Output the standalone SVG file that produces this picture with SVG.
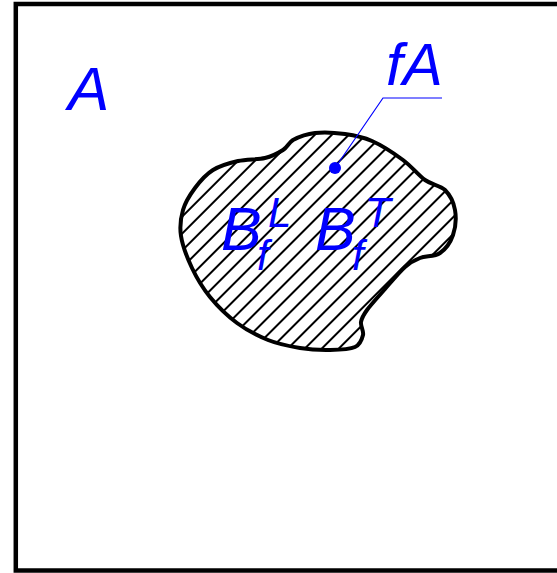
<svg xmlns="http://www.w3.org/2000/svg" width="557" height="573" viewBox="0 0 557 573">
<style>
.lbl{font-family:"Liberation Sans",Arial,sans-serif;font-style:italic;fill:#0000ff}
.sm{font-size:42px}
</style>
<defs>
<pattern id="hatch" patternUnits="userSpaceOnUse" width="24" height="12" patternTransform="rotate(-45)">
<line x1="-5" y1="6" x2="29" y2="6" stroke="#000" stroke-width="2"/>
</pattern>
</defs>
<rect width="557" height="573" fill="#fff"/>
<g id="frame">
<rect x="15.8" y="4" width="600" height="566.5" fill="none" stroke="#000" stroke-width="4.5"/>
<text class="lbl" x="68" y="110" font-size="62">A</text>
</g>
<g id="blob">
<path fill="url(#hatch)" stroke="#000" stroke-width="4" d="M293,140 C298.3,137.2 306.3,134 315,133 C323.7,132 335.5,132.7 345,134 C354.5,135.3 362.3,136.7 372,141 C381.7,145.3 394.2,153.5 403,160 C411.8,166.5 418,175 425,180 C432,185 440,185 445,190 C450,195 453.7,202.5 455,210 C456.3,217.5 455.5,227.8 453,235 C450.5,242.2 445.5,249.2 440,253 C434.5,256.8 425.8,255.7 420,258 C414.2,260.3 410.8,261.8 405,267 C399.2,272.2 391.3,281.8 385,289 C378.7,296.2 371,304.5 367,310 C363,315.5 361.7,317.8 361,322 C360.3,326.2 364,330.8 363,335 C362,339.2 360.5,344.5 355,347 C349.5,349.5 339.2,349.8 330,350 C320.8,350.2 310.3,349.7 300,348 C289.7,346.3 278.5,344.2 268,340 C257.5,335.8 246.7,330.2 237,323 C227.3,315.8 217.5,306.2 210,297 C202.5,287.8 196.8,278.2 192,268 C187.2,257.8 182.5,245.7 181,236 C179.5,226.3 180.7,218 183,210 C185.3,202 190,194.7 195,188 C200,181.3 205.8,174.5 213,170 C220.2,165.5 229.3,163 238,161 C246.7,159 257.5,159.8 265,158 C272.5,156.2 278.3,153 283,150 C287.7,147 288.3,143 293,140 Z"/>
<text class="lbl" x="221" y="250" font-size="61">B<tspan class="sm" x="257" y="270">f</tspan><tspan class="sm" x="268" y="227">L</tspan></text>
<text class="lbl" x="315" y="250" font-size="61">B<tspan class="sm" x="352" y="270">f</tspan><tspan class="sm" x="365" y="227">T</tspan></text>
</g>
<g id="connectors">
<polyline points="442,98 383,98 335,168" fill="none" stroke="#0000ff" stroke-width="1.2"/>
<circle cx="335" cy="168" r="6" fill="#0000ff"/>
</g>
<g id="label-fA">
<text class="lbl" x="386" y="85" font-size="60">fA</text>
</g>
</svg>
